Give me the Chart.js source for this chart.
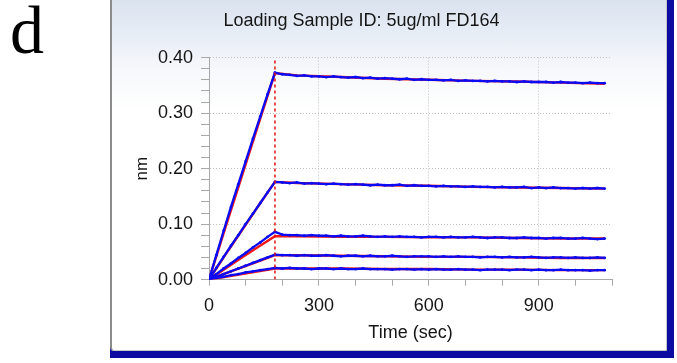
<!DOCTYPE html>
<html>
<head>
<meta charset="utf-8">
<script src="https://cdn.jsdelivr.net/npm/chart.js@4.4.1/dist/chart.umd.min.js"></script>
<style>
    body { margin: 0; width: 677px; height: 363px; background: #fff; position: relative; overflow: hidden; }
    #letra { position: absolute; left: 10px; top: -4px; font: 68px/68px "Liberation Serif", serif; color: #000; }
    #moldura { position: absolute; left: 110px; top: -10px; width: 564px; height: 368px; background: #0c0ca2; }
    #janela {
        position: absolute; left: 0; top: 0; width: 554px; height: 360px;
        border-left: 2px solid #8c8c8c; border-right: 1px solid #c4c4c4; border-bottom: 1px solid #c8c8c0;
        border-bottom-left-radius: 4px;
        background: linear-gradient(#d6dfec 0px, #e6ecf5 40px, #f6f8fb 80px, #ffffff 120px);
    }
    #myChart { position: absolute; left: 111px; top: 0; }
</style>
</head>
<body>
<div id="letra">d</div>
<div id="moldura"><div id="janela"></div></div>
<canvas id="myChart" width="528" height="350"></canvas>
<script>
// tempo (s) das leituras, passo de 20 s
const tempo = [
    0, 20, 40, 60, 80, 100, 120, 140, 160, 180,
    200, 220, 240, 260, 280, 300, 320, 340, 360, 380,
    400, 420, 440, 460, 480, 500, 520, 540, 560, 580,
    600, 620, 640, 660, 680, 700, 720, 740, 760, 780,
    800, 820, 840, 860, 880, 900, 920, 940, 960, 980,
    1000, 1020, 1040, 1060, 1080
];

// leituras (nm) - azul
const curva1 = [
    0.000, 0.044, 0.088, 0.131, 0.172, 0.213, 0.254, 0.294, 0.334, 0.373,
    0.370, 0.369, 0.367, 0.368, 0.366, 0.366, 0.365, 0.366, 0.365, 0.364,
    0.365, 0.363, 0.364, 0.362, 0.363, 0.362, 0.361, 0.362, 0.360, 0.361,
    0.360, 0.360, 0.359, 0.360, 0.358, 0.359, 0.358, 0.358, 0.357, 0.358,
    0.357, 0.357, 0.356, 0.357, 0.356, 0.356, 0.356, 0.355, 0.356, 0.355,
    0.355, 0.354, 0.355, 0.354, 0.354
];
const curva2 = [
    0.000, 0.021, 0.041, 0.061, 0.080, 0.100, 0.119, 0.138, 0.157, 0.176,
    0.175, 0.174, 0.175, 0.173, 0.174, 0.173, 0.172, 0.173, 0.172, 0.171,
    0.172, 0.171, 0.170, 0.171, 0.170, 0.170, 0.171, 0.169, 0.170, 0.169,
    0.169, 0.168, 0.169, 0.168, 0.168, 0.167, 0.168, 0.167, 0.167, 0.166,
    0.167, 0.166, 0.166, 0.167, 0.165, 0.166, 0.165, 0.166, 0.165, 0.165,
    0.164, 0.165, 0.164, 0.165, 0.164
];
const curva3 = [
    0.000, 0.010, 0.020, 0.029, 0.039, 0.048, 0.058, 0.067, 0.077, 0.086,
    0.081, 0.080, 0.080, 0.079, 0.080, 0.079, 0.079, 0.078, 0.079, 0.078,
    0.078, 0.079, 0.078, 0.077, 0.078, 0.077, 0.078, 0.077, 0.077, 0.076,
    0.077, 0.077, 0.076, 0.077, 0.076, 0.076, 0.077, 0.076, 0.075, 0.076,
    0.076, 0.075, 0.075, 0.076, 0.075, 0.075, 0.074, 0.075, 0.075, 0.074,
    0.074, 0.075, 0.074, 0.073, 0.074
];
const curva4 = [
    0.000, 0.005, 0.010, 0.015, 0.020, 0.025, 0.030, 0.035, 0.040, 0.045,
    0.044, 0.044, 0.043, 0.044, 0.043, 0.043, 0.044, 0.043, 0.042, 0.043,
    0.043, 0.042, 0.043, 0.042, 0.042, 0.043, 0.042, 0.041, 0.042, 0.042,
    0.042, 0.041, 0.042, 0.041, 0.042, 0.041, 0.041, 0.040, 0.041, 0.041,
    0.040, 0.041, 0.040, 0.040, 0.041, 0.040, 0.039, 0.040, 0.040, 0.039,
    0.040, 0.039, 0.039, 0.040, 0.039
];
const curva5 = [
    0.000, 0.003, 0.005, 0.008, 0.010, 0.013, 0.015, 0.017, 0.019, 0.021,
    0.020, 0.021, 0.020, 0.020, 0.019, 0.020, 0.020, 0.019, 0.020, 0.019,
    0.019, 0.020, 0.019, 0.019, 0.019, 0.018, 0.019, 0.019, 0.018, 0.019,
    0.018, 0.019, 0.018, 0.018, 0.019, 0.018, 0.018, 0.017, 0.018, 0.018,
    0.018, 0.017, 0.018, 0.018, 0.017, 0.018, 0.017, 0.017, 0.018, 0.017,
    0.017, 0.017, 0.016, 0.017, 0.017
];

// ajuste (fit) - vermelho
const tempoAjuste = [0, 45, 90, 135, 180, 240, 360, 480, 600, 720, 840, 960, 1080];
const ajuste1 = [0, 0.094, 0.187, 0.280, 0.372, 0.368, 0.365, 0.362, 0.360, 0.358, 0.357, 0.355, 0.353];
const ajuste2 = [0, 0.045, 0.089, 0.133, 0.176, 0.174, 0.172, 0.170, 0.169, 0.167, 0.166, 0.165, 0.164];
const ajuste3 = [0, 0.020, 0.040, 0.059, 0.078, 0.078, 0.077, 0.077, 0.076, 0.076, 0.075, 0.074, 0.074];
const ajuste4 = [0, 0.011, 0.022, 0.033, 0.044, 0.044, 0.043, 0.042, 0.041, 0.041, 0.040, 0.039, 0.039];
const ajuste5 = [0, 0.005, 0.010, 0.015, 0.020, 0.020, 0.020, 0.019, 0.019, 0.018, 0.018, 0.017, 0.017];

// inicio da dissociacao (linha tracejada)
const tempoTroca = [180, 180];
const nivelTroca = [0, 0.40];

const ticksX = [0, 300, 600, 900];
const ticksY = [0.00, 0.10, 0.20, 0.30, 0.40];

const titulo = 'Loading Sample ID: 5ug/ml FD164';
const fonte = '"Liberation Sans", Arial, sans-serif';

function pontos(xs, ys) {
    return xs.map((x, i) => ({ x: x, y: ys[i] }));
}

function serieAzul(ys) {
    return {
        data: pontos(tempo, ys),
        borderColor: '#0a0af5',
        backgroundColor: '#0a0af5',
        borderWidth: 2.3,
        pointRadius: 1.4,
        pointBorderWidth: 0,
        tension: 0
    };
}

function serieVermelha(ys) {
    return {
        data: pontos(tempoAjuste, ys),
        borderColor: '#f01818',
        borderWidth: 2.4,
        pointRadius: 0,
        tension: 0
    };
}

function ehMaiorY(v) {
    return ticksY.some(t => Math.abs(t - v) < 1e-6);
}

function plotarGrafico() {
    let dados = {
        datasets: [
            {
                data: pontos(tempoTroca, nivelTroca),
                borderColor: '#e01010',
                borderWidth: 1.5,
                borderDash: [3, 3],
                pointRadius: 0
            },
            serieAzul(curva1), serieAzul(curva2), serieAzul(curva3), serieAzul(curva4), serieAzul(curva5),
            serieVermelha(ajuste1), serieVermelha(ajuste2), serieVermelha(ajuste3), serieVermelha(ajuste4), serieVermelha(ajuste5)
        ]
    };

    const config = {
        type: 'line',
        data: dados,
        options: {
            responsive: false,
            animation: false,
            devicePixelRatio: 1,
            layout: { padding: { left: 0, right: 27, top: 0, bottom: 0 } },
            plugins: {
                legend: { display: false },
                tooltip: { enabled: false },
                title: {
                    display: true,
                    text: titulo,
                    color: '#151515',
                    font: { family: fonte, size: 18, weight: 'normal' },
                    padding: { top: 10, bottom: 26 }
                }
            },
            scales: {
                x: {
                    type: 'linear',
                    min: 0,
                    max: 1100,
                    afterFit: (scale) => { scale.height = 70.4; },
                    ticks: {
                        stepSize: 100,
                        autoSkip: false,
                        maxRotation: 0,
                        padding: 10,
                        color: '#151515',
                        font: { family: fonte, size: 18 },
                        callback: (v) => ticksX.includes(v) ? String(v) : ''
                    },
                    grid: {
                        color: (ctx) => (ctx.tick && ctx.tick.value > 0 && ticksX.includes(ctx.tick.value)) ? '#c2c2c2' : 'rgba(0,0,0,0)',
                        tickColor: '#a8a8a8',
                        tickLength: 6
                    },
                    border: { display: true, color: '#a8a8a8', width: 1, dash: [1, 2] },
                    title: {
                        display: true,
                        text: 'Time (sec)',
                        color: '#151515',
                        font: { family: fonte, size: 18 },
                        padding: { top: 0, bottom: 6 }
                    }
                },
                y: {
                    min: 0,
                    max: 0.4,
                    afterFit: (scale) => { scale.width = 98; },
                    ticks: {
                        stepSize: 0.02,
                        autoSkip: false,
                        padding: 8,
                        color: '#151515',
                        font: { family: fonte, size: 18 },
                        callback: (v) => ehMaiorY(v) ? v.toFixed(2) : ''
                    },
                    grid: {
                        color: (ctx) => (ctx.tick && ctx.tick.value > 0.001 && ehMaiorY(ctx.tick.value)) ? '#c2c2c2' : 'rgba(0,0,0,0)',
                        tickColor: '#a8a8a8',
                        tickLength: 8
                    },
                    border: { display: true, color: '#a8a8a8', width: 1, dash: [1, 2] },
                    title: {
                        display: true,
                        text: 'nm',
                        color: '#151515',
                        font: { family: fonte, size: 17 },
                        padding: { top: 21, bottom: 0 }
                    }
                }
            }
        }
    };

    let myChart = new Chart(document.getElementById('myChart'), config);
}

plotarGrafico();
</script>
</body>
</html>
